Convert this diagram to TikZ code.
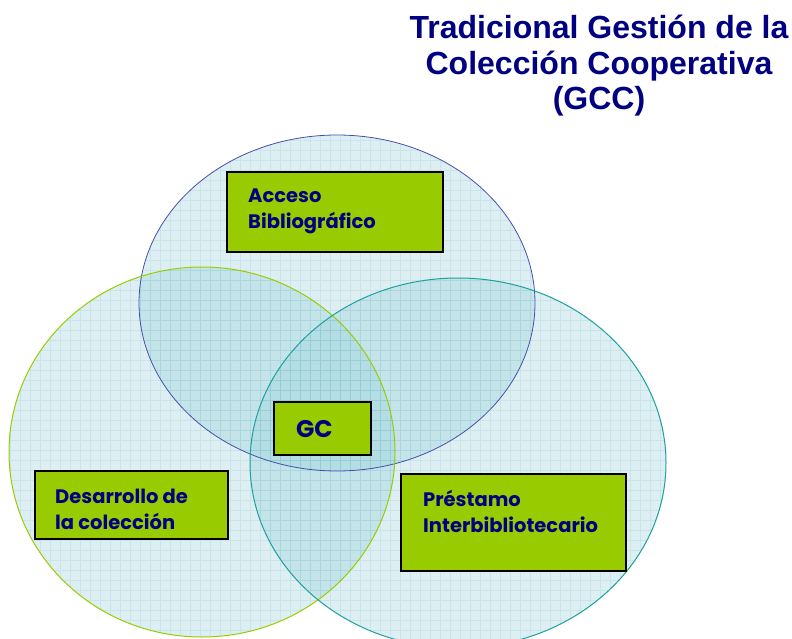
\documentclass[tikz,border=0pt]{standalone}
\usepackage{fontspec}
\setmainfont{Liberation Sans}
\newfontfamily\boxfont{Poppins}
\definecolor{navytxt}{RGB}{0,0,128}
\definecolor{boxgreen}{RGB}{153,204,0}
\definecolor{circfillc}{RGB}{144,204,214}
\definecolor{gridc}{RGB}{110,185,195}
\definecolor{topline}{RGB}{70,80,170}
\definecolor{leftline}{RGB}{153,204,0}
\definecolor{rightline}{RGB}{30,160,160}
\tikzset{
  circfill/.style={fill=circfillc, fill opacity=0.31},
  gridline/.style={draw=gridc, draw opacity=0.18, line width=0.8pt},
  greenbox/.style={draw=black, line width=2pt, fill=boxgreen, inner sep=0pt},
  boxtext/.style={font=\boxfont\bfseries\fontsize{19.5}{26}\selectfont, text=navytxt, align=left, inner sep=0pt, anchor=base west},
  titletext/.style={font=\bfseries\fontsize{32}{35.5}\selectfont, text=navytxt, align=center, inner sep=0pt}
}
\begin{document}
\begin{tikzpicture}[x=1pt,y=-1pt]
\useasboundingbox (0,0) rectangle (792,639);
% circles fill + grid
\foreach \cx/\cy/\rx/\ry in {337/303/198/168, 202/452/193/185, 458/463/208/185}{
  \begin{scope}
    \clip (\cx,\cy) ellipse [x radius=\rx, y radius=\ry];
    \fill[circfill] (0,0) rectangle (792,639);
    \draw[gridline] (0pt,0pt) grid[step=10pt] (792pt,-639pt);
  \end{scope}
}
\draw[topline, line width=0.8pt] (337,303) ellipse [x radius=198, y radius=168];
\draw[leftline, line width=1pt] (202,452) ellipse [x radius=193, y radius=185];
\draw[rightline, line width=1pt] (458,463) ellipse [x radius=208, y radius=185];
% boxes
\node[greenbox, minimum width=216pt, minimum height=80pt] (acc) at (334.5,212) {};
\node[greenbox, minimum width=97pt, minimum height=53pt] (gc) at (322.5,428.5) {};
\node[greenbox, minimum width=193pt, minimum height=68pt] (des) at (131,505) {};
\node[greenbox, minimum width=225pt, minimum height=97pt] (pre) at (513.5,522.5) {};
% texts (anchor at baseline of last line)
\node[boxtext] (acct) at (248,229) {Acceso\\Bibliográfico};
\node[boxtext, font=\boxfont\bfseries\fontsize{24}{28}\selectfont] (gct) at (296,437) {GC};
\node[boxtext] (dest) at (55,529) {Desarrollo de\\la colección};
\node[boxtext] (pret) at (423,532) {Préstamo\\Interbibliotecario};
\node[titletext, anchor=north] (title) at (599,15) {Tradicional Gestión de la\\Colección Cooperativa\\(GCC)};
\end{tikzpicture}
\end{document}
